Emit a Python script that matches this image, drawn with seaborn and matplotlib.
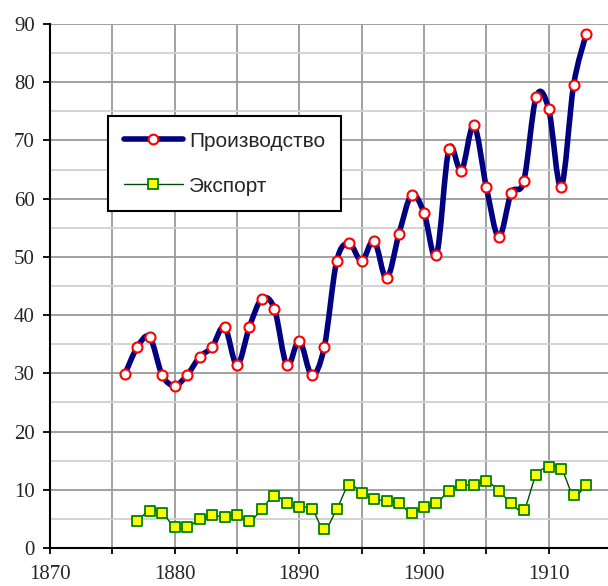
import numpy as np
import pandas as pd
import seaborn as sns
import matplotlib
matplotlib.use("Agg")
import matplotlib.pyplot as plt
from matplotlib.path import Path
from matplotlib.patches import PathPatch
from matplotlib.lines import Line2D
from matplotlib.ticker import MultipleLocator

# ---- data ----
prod_years = list(range(1876, 1914))
prod_values = [29.8, 34.5, 36.2, 29.7, 27.9, 29.7, 32.8, 34.5, 38.0, 31.4,
               38.0, 42.8, 41.1, 31.4, 35.6, 29.7, 34.5, 49.3, 52.3, 49.3,
               52.8, 46.3, 54.0, 60.6, 57.6, 50.3, 68.5, 64.8, 72.6, 62.0,
               53.4, 61.0, 63.0, 77.5, 75.4, 62.0, 79.5, 88.2]
exp_years = list(range(1877, 1914))
exp_values = [4.6, 6.4, 6.0, 3.6, 3.6, 4.9, 5.6, 5.3, 5.6, 4.6,
              6.7, 9.0, 7.7, 7.0, 6.7, 3.2, 6.7, 10.8, 9.4, 8.4,
              8.1, 7.7, 6.0, 7.0, 7.7, 9.8, 10.8, 10.8, 11.5, 9.8,
              7.7, 6.6, 12.5, 13.9, 13.6, 9.1, 10.8]
series_names = ["Производство", "Экспорт"]
x_ticks = [1870, 1875, 1880, 1885, 1890, 1895, 1900, 1905, 1910, 1915]
x_tick_labels = ["1870", "", "1880", "", "1890", "", "1900", "", "1910", ""]
y_ticks = [0, 10, 20, 30, 40, 50, 60, 70, 80, 90]

prod_df = pd.DataFrame({"year": prod_years, "value": prod_values})
exp_df = pd.DataFrame({"year": exp_years, "value": exp_values})

sns.set_style("white")
plt.rcParams['font.family'] = ['Liberation Serif', 'DejaVu Serif']

fig = plt.figure(figsize=(6.08, 5.86), dpi=100)
ax = fig.add_axes([50 / 608, 38 / 586, 561 / 608, 524 / 586])


def smooth_path(x, y):
    pts = np.column_stack([x, y]).astype(float)
    n = len(pts)
    verts = [pts[0]]
    codes = [Path.MOVETO]
    for i in range(n - 1):
        p0 = pts[i - 1] if i > 0 else pts[i]
        p1 = pts[i]
        p2 = pts[i + 1]
        p3 = pts[i + 2] if i + 2 < n else pts[i + 1]
        c1 = p1 + (p2 - p0) / 6.0
        c2 = p2 - (p3 - p1) / 6.0
        verts += [c1, c2, p2]
        codes += [Path.CURVE4] * 3
    return Path(verts, codes)


prod_color = "#000080"
exp_line_color = "#004d00"

ax.add_patch(PathPatch(smooth_path(prod_df.year, prod_df.value), facecolor="none",
                       edgecolor=prod_color, lw=4.0, capstyle="round",
                       joinstyle="round", zorder=3))
ax.add_patch(PathPatch(smooth_path(exp_df.year, exp_df.value), facecolor="none",
                       edgecolor=exp_line_color, lw=1.0, zorder=3))

sns.scatterplot(data=prod_df, x="year", y="value", ax=ax, marker="o", s=52,
                facecolor="white", edgecolor="#ff0000", linewidth=1.5, zorder=4)
sns.scatterplot(data=exp_df, x="year", y="value", ax=ax, marker="s", s=52,
                facecolor="#ffff00", edgecolor="#008000", linewidth=1.3, zorder=4)

ax.set_xlim(1870, 1915)
ax.set_ylim(0, 90)
ax.set_xlabel("")
ax.set_ylabel("")
ax.set_xticks(x_ticks)
ax.set_xticklabels(x_tick_labels)
ax.set_yticks(y_ticks)
ax.yaxis.set_minor_locator(MultipleLocator(5))

ax.set_axisbelow(True)
ax.grid(which="major", axis="both", color="#9a9a9a", lw=1.3)
ax.grid(which="minor", axis="y", color="#d0d0d0", lw=1.3)

for s in ["top", "right"]:
    ax.spines[s].set_visible(False)
for s in ["left", "bottom"]:
    ax.spines[s].set_color("black")
    ax.spines[s].set_linewidth(1.5)
    ax.spines[s].set_zorder(5)

ax.tick_params(axis="y", which="major", direction="out", length=5, width=1.3,
               color="black", labelsize=15, pad=6, left=True)
ax.tick_params(axis="y", which="minor", length=0)
ax.tick_params(axis="x", which="major", direction="out", length=4, width=1.3,
               color="black", labelsize=15, pad=8, bottom=True)

handles = [
    Line2D([], [], color=prod_color, lw=4.0, marker="o", markersize=7,
           markerfacecolor="white", markeredgecolor="#ff0000", markeredgewidth=1.5,
           solid_capstyle="round"),
    Line2D([], [], color=exp_line_color, lw=1.0, marker="s", markersize=7,
           markerfacecolor="#ffff00", markeredgecolor="#008000", markeredgewidth=1.3),
]
leg = ax.legend(handles, series_names, loc="upper left",
                bbox_to_anchor=(108 / 608, 1 - 116 / 586), bbox_transform=fig.transFigure,
                borderaxespad=0, prop={"family": "Liberation Sans", "size": 15},
                frameon=True, fancybox=False, shadow=False, framealpha=1,
                edgecolor="black", borderpad=0.75, labelspacing=1.25,
                handlelength=2.85, handletextpad=0.3, markerscale=1.0)
leg.get_frame().set_linewidth(1.5)
leg.set_zorder(6)

fig.savefig("out.png", dpi=100)
